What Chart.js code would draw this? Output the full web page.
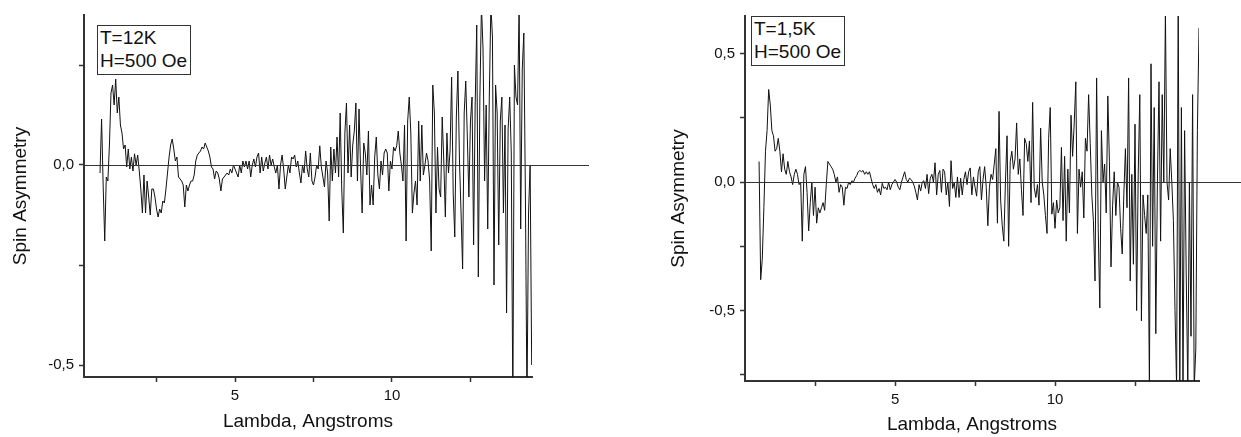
<!DOCTYPE html>
<html>
<head>
<meta charset="utf-8">
<script src="https://cdn.jsdelivr.net/npm/chart.js@4.4.1/dist/chart.umd.min.js"></script>
<style>
  body { margin: 0; background: #fff; width: 1241px; height: 437px; overflow: hidden; position: relative; font-family: "Liberation Sans", Arial, sans-serif; }
  .panel { position: absolute; top: 0; height: 437px; }
  .note { position: absolute; border: 1px solid #333; background: #fff; font-size: 19px; line-height: 23px; padding: 0 3px 2px 2px; color: #111; white-space: nowrap; }
</style>
</head>
<body>
<div class="panel" style="left:0;width:620px"><canvas id="c12K" width="620" height="437"></canvas></div>
<div class="panel" style="left:620px;width:621px"><canvas id="c15K" width="621" height="437"></canvas></div>
<div class="note" style="left:97px;top:25px;">T=12K<br>H=500 Oe</div>
<div class="note" style="left:751px;top:16px;">T=1,5K<br>H=500 Oe</div>

<script>
// wavelength grid (Angstroms)
const lambdaStep = 0.05;
const lambdaStart12K = 0.70;
const lambdaStart15K = 0.75;

// spin asymmetry, T=12K
const asym12K = [
  -0.02, 0.115, -0.05, -0.19, -0.03, -0.04, 0.05, 0.18, 0.2, 0.15,
  0.215, 0.13, 0.17, 0.10, 0.08, 0.04, 0.05, -0.005, 0.04, -0.01,
  0.02, -0.015, 0.028, 0.0, 0.025, -0.015, -0.06, -0.12, -0.025, -0.12,
  -0.04, -0.08, -0.125, -0.06, -0.06, -0.08, -0.11, -0.13, -0.11, -0.12,
  -0.09, -0.095, -0.06, -0.02, 0.02, 0.05, 0.065, 0.04, 0.01, 0.02,
  -0.03, -0.035, -0.04, -0.05, -0.105, -0.05, -0.065, -0.05, -0.04, -0.04,
  -0.025, 0.01, 0.025, 0.03, 0.035, 0.045, 0.04, 0.055, 0.045, 0.035,
  0.02, -0.005, -0.01, -0.035, -0.015, -0.02, -0.035, -0.065, -0.035, -0.03,
  -0.025, -0.02, -0.025, -0.01, -0.02, 0.0, -0.01, -0.02, -0.03, 0.0,
  -0.02, 0.01, -0.005, 0.01, -0.01, 0.01, -0.03, 0.0, 0.015, -0.005,
  0.02, 0.03, -0.02, 0.02, -0.015, 0.005, 0.02, -0.01, 0.025, 0.0,
  0.015, -0.005, -0.02, 0.0, -0.06, 0.0, 0.025, -0.01, -0.06, -0.03,
  0.0, -0.02, 0.02, 0.015, 0.025, -0.005, 0.01, -0.02, -0.045, 0.0,
  -0.02, 0.035, -0.01, -0.03, 0.03, -0.04, -0.05, -0.03, 0.0, -0.01,
  0.048, -0.005, -0.03, -0.055, 0.01, -0.02, -0.14, 0.045, -0.04, 0.04,
  -0.02, 0.07, -0.03, 0.13, -0.06, -0.17, 0.08, 0.155, -0.02, 0.1,
  -0.03, 0.05, 0.085, 0.155, -0.04, 0.14, -0.01, -0.12, 0.055, 0.03,
  -0.025, 0.085, -0.10, -0.05, -0.1, 0.02, 0.07, -0.025, -0.06, 0.01,
  -0.025, 0.03, 0.04, 0.03, -0.065, 0.01, -0.01, 0.045, 0.035, 0.048,
  0.085, 0.03, 0.0, -0.04, 0.1, -0.19, 0.11, 0.17, 0.08, -0.12,
  -0.07, -0.04, -0.1, 0.11, -0.04, 0.1, -0.025, 0.0, 0.03, 0.01,
  -0.04, -0.215, 0.2, 0.13, -0.12, 0.045, -0.06, -0.08, 0.12, 0.01,
  -0.13, 0.08, -0.02, 0.035, 0.22, -0.07, -0.18, 0.12, 0.235, 0.01,
  -0.12, -0.26, 0.13, 0.21, 0.07, -0.08, 0.11, 0.17, -0.2, 0.15,
  0.35, -0.28, 0.17, 0.4, 0.29, -0.04, 0.15, -0.16, 0.17, 0.4,
  0.32, -0.3, 0.2, 0.13, -0.2, 0.11, 0.17, -0.12, 0.1, -0.37,
  0.09, 0.17, 0.03, -0.6, 0.25, 0.17, 0.15, 0.4, -0.16, 0.24,
  0.33, -0.08, -0.6, -0.12, 0.0, -0.5
];

// spin asymmetry, T=1,5K
const asym15K = [
  0.08, -0.38, -0.3, -0.1, 0.12, 0.2, 0.36, 0.3, 0.2, 0.18,
  0.12, 0.13, 0.17, 0.12, 0.04, 0.11, 0.05, 0.03, 0.08, 0.04,
  0.02, -0.01, 0.03, 0.05, 0.03, -0.01, 0.0, -0.23, 0.03, 0.06,
  -0.04, -0.19, -0.08, 0.0, -0.13, -0.02, -0.16, -0.1, -0.12, -0.1,
  -0.08, -0.11, -0.01, 0.08, 0.07, 0.06, 0.05, 0.03, 0.0, 0.02,
  -0.04, -0.01, -0.02, -0.09, -0.02, -0.025, 0.0, -0.01, 0.005, 0.0,
  0.015, 0.025, 0.04, 0.045, 0.04, 0.045, 0.03, 0.04, 0.03, 0.04,
  0.015, -0.01, -0.025, -0.01, -0.04, -0.025, -0.05, -0.005, -0.025, -0.02,
  -0.03, 0.0, -0.03, -0.01, 0.0, 0.01, 0.0, -0.02, -0.03, 0.0,
  0.02, 0.04, 0.01, 0.0, 0.015, 0.01, 0.0, -0.015, -0.04, -0.07,
  -0.01, -0.035, 0.0, 0.005, -0.025, 0.03, -0.045, 0.015, 0.03, 0.0,
  0.075, -0.05, 0.03, 0.045, -0.04, 0.05, 0.04, -0.05, 0.0, -0.095,
  0.083, -0.025, 0.0, -0.06, 0.02, -0.06, 0.015, -0.05, 0.01, 0.04,
  -0.01, 0.04, 0.055, -0.05, 0.02, -0.02, -0.055, 0.04, 0.06, -0.07,
  0.01, 0.06, -0.02, -0.17, -0.02, 0.03, 0.01, 0.07, 0.13, -0.16,
  0.275, -0.07, -0.17, -0.23, 0.0, 0.18, -0.25, 0.08, 0.12, 0.05,
  0.09, 0.23, 0.03, 0.09, -0.03, -0.13, 0.17, 0.15, 0.08, 0.16,
  -0.08, 0.31, -0.02, -0.06, -0.01, -0.09, 0.21, 0.0, -0.05, -0.13,
  -0.2, 0.17, 0.29, -0.125, -0.08, -0.18, -0.07, -0.12, -0.1, 0.135,
  -0.15, 0.1, -0.23, 0.05, -0.12, 0.26, 0.1, 0.23, 0.39, -0.2,
  0.05, -0.02, 0.04, -0.14, 0.17, 0.12, 0.34, 0.15, -0.05, -0.15,
  -0.385, 0.405, -0.18, -0.49, 0.2, 0.0, 0.07, -0.12, 0.335, 0.08,
  -0.33, -0.09, 0.04, -0.13, 0.0, -0.02, -0.18, -0.28, -0.05, 0.13,
  -0.1, 0.405, -0.385, 0.03, -0.32, 0.225, -0.5, 0.03, 0.34, -0.54,
  -0.05, -0.13, -0.2, -0.05, -0.8, 0.46, -0.25, 0.29, -0.59, 0.0,
  0.39, -0.23, 0.34, 0.0, 0.66, 0.0, -0.07, 0.13, 0.0, -0.15,
  -0.5, -0.8, 0.7, -0.8, 0.29, -0.8, 0.2, -0.35, -0.8, 0.0,
  -0.6, 0.34, -0.8, -0.65, 0.2, 0.6
];

const xTitle = 'Lambda, Angstroms';
const yTitle = 'Spin Asymmetry';

Chart.defaults.font.family = '"Liberation Sans", Arial, sans-serif';
Chart.defaults.color = '#111';

// horizontal line at zero, runs past the right end of the axis like the original
const zeroLine = {
  id: 'zeroLine',
  afterDatasetsDraw(chart, args, opts) {
    const { ctx, chartArea, scales } = chart;
    const y = Math.round(scales.y.getPixelForValue(0)) + 0.5;
    ctx.save();
    ctx.strokeStyle = '#333';
    ctx.lineWidth = 1;
    ctx.beginPath();
    ctx.moveTo(chartArea.left, y);
    ctx.lineTo(chartArea.right + opts.extend, y);
    ctx.stroke();
    ctx.restore();
  }
};

function toPoints(start, values) {
  return values.map((v, i) => ({ x: +(start + i * lambdaStep).toFixed(2), y: v }));
}

function fmt(v) {
  return v.toFixed(1).replace('.', ',');
}

function makeChart(id, start, values, cfg) {
  return new Chart(document.getElementById(id), {
    type: 'line',
    data: {
      datasets: [{
        data: toPoints(start, values),
        borderColor: '#111',
        borderWidth: 1,
        pointRadius: 0,
        tension: 0
      }]
    },
    options: {
      responsive: false,
      animation: false,
      devicePixelRatio: 1,
      layout: { padding: { top: cfg.top, right: cfg.right, left: 0, bottom: 0 } },
      plugins: {
        legend: { display: false },
        tooltip: { enabled: false },
        zeroLine: { extend: cfg.extend }
      },
      scales: {
        x: {
          type: 'linear',
          min: cfg.xMin,
          max: cfg.xMax,
          afterFit: (s) => { s.height = cfg.xHeight; },
          border: { color: '#333', width: 2 },
          grid: { drawOnChartArea: false, tickLength: 5, color: '#333', tickWidth: 1.5 },
          ticks: {
            stepSize: 2.5,
            includeBounds: false,
            autoSkip: false,
            maxRotation: 0,
            padding: 5,
            font: { size: 15 },
            callback: (v) => (Math.abs(v % 5) < 1e-6 ? String(v) : '')
          },
          title: { display: true, text: xTitle, font: { size: 19 }, padding: { top: 0, bottom: cfg.xTitlePad } }
        },
        y: {
          min: cfg.yMin,
          max: cfg.yMax,
          afterFit: (s) => { s.width = cfg.yWidth; },
          border: { color: '#333', width: 2 },
          grid: { drawOnChartArea: false, tickLength: 5, color: '#333', tickWidth: 1.5 },
          ticks: {
            stepSize: 0.25,
            includeBounds: false,
            autoSkip: false,
            padding: 5,
            font: { size: 15 },
            callback: (v) => {
              const r = Math.round(v * 100) / 100;
              return Math.abs(r * 2 - Math.round(r * 2)) < 1e-6 ? fmt(r) : '';
            }
          },
          title: { display: true, text: yTitle, font: { size: 19 }, padding: { top: cfg.yTitlePad, bottom: 0 } }
        }
      }
    },
    plugins: [zeroLine]
  });
}

makeChart('c12K', lambdaStart12K, asym12K, {
  top: 15, right: 88, xHeight: 60, yWidth: 84,
  xMin: 0.19, xMax: 14.46, yMin: -0.53, yMax: 0.375,
  extend: 57, xTitlePad: 4, yTitlePad: 9
});

makeChart('c15K', lambdaStart15K, asym15K, {
  top: 16, right: 42, xHeight: 56, yWidth: 125,
  xMin: 0.31, xMax: 14.5, yMin: -0.774, yMax: 0.646,
  extend: 42, xTitlePad: 1, yTitlePad: 47
});
</script>
</body>
</html>
